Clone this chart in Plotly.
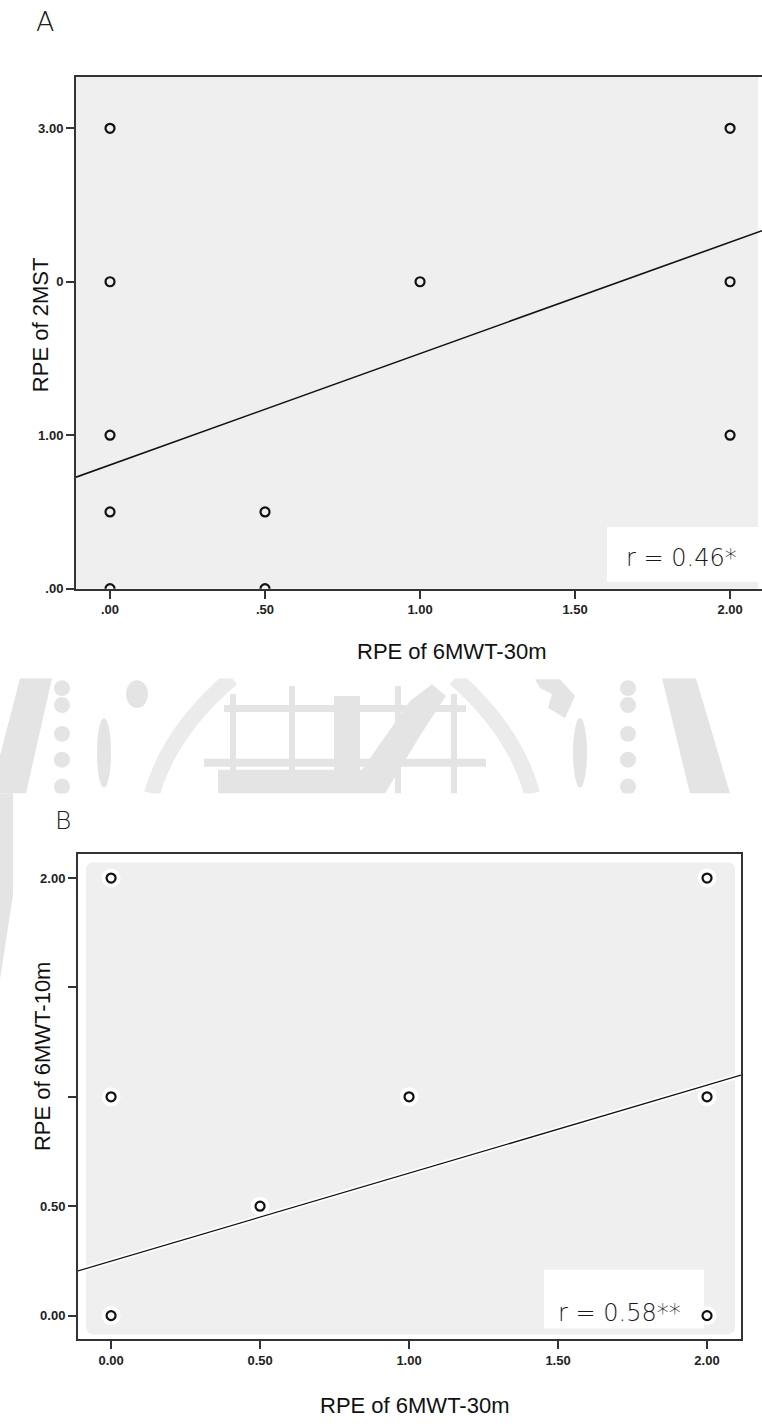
import plotly.graph_objects as go

W, H = 762, 1427

# ---------------- data ----------------
a_x = [0, 0, 0, 0, 0, 0.5, 0.5, 1, 2, 2, 2]
a_y = [3, 2, 1, 0.5, 0, 0.5, 0, 2, 3, 2, 1]
a_fit_intercept, a_fit_slope = 0.806, 0.726
a_xtick_vals = [0, 0.5, 1, 1.5, 2]
a_xtick_text = [".00", ".50", "1.00", "1.50", "2.00"]
a_ytick_vals = [0, 1, 2, 3]
a_ytick_text = [".00", "1.00", "0", "3.00"]
a_r_label = "r = 0.46*"

b_x = [0, 0, 0, 0.5, 1, 2, 2, 2]
b_y = [2, 1, 0, 0.5, 1, 2, 1, 0]
b_fit_intercept, b_fit_slope = 0.249, 0.402
b_xtick_vals = [0, 0.5, 1, 1.5, 2]
b_xtick_text = ["0.00", "0.50", "1.00", "1.50", "2.00"]
b_ytick_vals = [0, 0.5, 1, 1.5, 2]
b_ytick_text = ["0.00", "0.50", "", "", "2.00"]
b_r_label = "r = 0.58**"

x_title = "RPE of 6MWT-30m"
a_y_title = "RPE of 2MST"
b_y_title = "RPE of 6MWT-10m"

# ---------------- helpers ----------------
def px(x):
    return x / W

def py(y):
    return 1 - y / H

def poly(points):
    return "M " + " L ".join(f"{px(x):.5f},{py(y):.5f}" for x, y in points) + " Z"

A_XR = [-0.1097, 2.103]
A_YR = [0, 3.337]
B_XR = [-0.111, 2.114]
B_YR = [-0.109, 2.109]

fig = go.Figure()

# Panel A
fig.add_trace(go.Scatter(
    x=A_XR, y=[a_fit_intercept + a_fit_slope * v for v in A_XR],
    mode="lines", line=dict(color="#111", width=1.6),
    xaxis="x", yaxis="y", hoverinfo="skip"))
fig.add_trace(go.Scatter(
    x=a_x, y=a_y, mode="markers",
    marker=dict(symbol="circle-open", size=9, color="#111", line=dict(width=2.2, color="#111")),
    xaxis="x", yaxis="y"))

# Panel B
fig.add_trace(go.Scatter(
    x=B_XR, y=[b_fit_intercept + b_fit_slope * v for v in B_XR],
    mode="lines", line=dict(color="rgba(255,255,255,0.9)", width=5),
    xaxis="x2", yaxis="y2", hoverinfo="skip"))
fig.add_trace(go.Scatter(
    x=B_XR, y=[b_fit_intercept + b_fit_slope * v for v in B_XR],
    mode="lines", line=dict(color="#111", width=1.3),
    xaxis="x2", yaxis="y2", hoverinfo="skip"))
fig.add_trace(go.Scatter(
    x=b_x, y=b_y, mode="markers",
    marker=dict(symbol="circle", size=19, color="rgba(255,255,255,0.95)", line=dict(width=0)),
    xaxis="x2", yaxis="y2", hoverinfo="skip"))
fig.add_trace(go.Scatter(
    x=b_x, y=b_y, mode="markers",
    marker=dict(symbol="circle-open", size=9, color="#111", line=dict(width=2.2, color="#111")),
    xaxis="x2", yaxis="y2"))

tickfont = dict(family="Liberation Sans, Arial, sans-serif", size=13, color="#222", weight="bold")
axis_common = dict(showgrid=False, zeroline=False, showline=True, linecolor="#333",
                   linewidth=2, ticks="outside", ticklen=8, tickwidth=2, tickcolor="#333",
                   tickfont=tickfont, fixedrange=True)

shapes = []
WM = "#e4e4e4"
# ----- watermark (faded seal between the panels) -----
band = [
    poly([(20, 682), (52, 682), (26, 798), (0, 798), (0, 760)]),
    poly([(0, 798), (13, 798), (13, 900), (0, 985)]),
    poly([(662, 682), (696, 682), (730, 798), (690, 798)]),
    poly([(218, 774), (362, 774), (410, 705), (432, 688), (446, 700), (420, 740), (385, 798), (218, 798)]),
    poly([(334, 700), (360, 700), (360, 780), (334, 780)]),
    poly([(535, 683), (560, 683), (575, 700), (565, 722), (548, 712), (552, 698), (540, 692)]),
]
for p in band:
    shapes.append(dict(type="path", xref="paper", yref="paper", path=p,
                       fillcolor=WM, line=dict(width=0), layer="below"))
for (x0, y0, x1, y1) in [(224, 709, 466, 716), (204, 763, 486, 771),
                         (230, 698, 236, 798), (289, 690, 295, 798),
                         (395, 690, 401, 798), (451, 698, 457, 798)]:
    shapes.append(dict(type="rect", xref="paper", yref="paper",
                       x0=px(x0), x1=px(x1), y0=py(y1), y1=py(y0),
                       fillcolor=WM, line=dict(width=0), layer="below"))
for cx in (62, 628):
    for cy in (692, 709, 738, 764, 791):
        r = 8
        shapes.append(dict(type="circle", xref="paper", yref="paper",
                           x0=px(cx - r), x1=px(cx + r), y0=py(cy + r), y1=py(cy - r),
                           fillcolor=WM, line=dict(width=0), layer="below"))
for cx in (104, 580):
    shapes.append(dict(type="circle", xref="paper", yref="paper",
                       x0=px(cx - 7), x1=px(cx + 7), y0=py(792), y1=py(722),
                       fillcolor=WM, line=dict(width=0), layer="below"))
shapes.append(dict(type="circle", xref="paper", yref="paper",
                   x0=px(126), x1=px(148), y0=py(712), y1=py(684),
                   fillcolor=WM, line=dict(width=0), layer="below"))
shapes.append(dict(type="path", xref="paper", yref="paper",
                   path=f"M {px(232):.5f},{py(682):.5f} Q {px(170):.5f},{py(735):.5f} {px(152):.5f},{py(798):.5f}",
                   line=dict(color="#ebebeb", width=16), layer="below"))
shapes.append(dict(type="path", xref="paper", yref="paper",
                   path=f"M {px(455):.5f},{py(682):.5f} Q {px(515):.5f},{py(735):.5f} {px(532):.5f},{py(798):.5f}",
                   line=dict(color="#ebebeb", width=16), layer="below"))
shapes.append(dict(type="rect", xref="paper", yref="paper", x0=0, x1=1, y0=py(682), y1=1,
                   fillcolor="white", line=dict(width=0), layer="below"))
shapes.append(dict(type="rect", xref="paper", yref="paper", x0=px(13), x1=1, y0=0, y1=py(798),
                   fillcolor="white", line=dict(width=0), layer="below"))

# gray background for panel A
shapes.append(dict(type="rect", xref="paper", yref="paper", x0=px(76), x1=px(758), y0=py(592), y1=py(77),
                   fillcolor="#efefef", line=dict(width=0), layer="below"))

# panel B inner gray area (rounded)
x0, x1, y0, y1, rr = 86, 735, 867, 1342, 8
pathB = (f"M {px(x0+rr):.5f},{py(y0):.5f} L {px(x1-rr):.5f},{py(y0):.5f} "
         f"Q {px(x1):.5f},{py(y0):.5f} {px(x1):.5f},{py(y0+rr):.5f} "
         f"L {px(x1):.5f},{py(y1-rr):.5f} Q {px(x1):.5f},{py(y1):.5f} {px(x1-rr):.5f},{py(y1):.5f} "
         f"L {px(x0+rr):.5f},{py(y1):.5f} Q {px(x0):.5f},{py(y1):.5f} {px(x0):.5f},{py(y1-rr):.5f} "
         f"L {px(x0):.5f},{py(y0+rr):.5f} Q {px(x0):.5f},{py(y0):.5f} {px(x0+rr):.5f},{py(y0):.5f} Z")
shapes.append(dict(type="path", xref="paper", yref="paper", path=pathB,
                   fillcolor="#efefef", line=dict(width=0), layer="below"))

# r boxes
shapes.append(dict(type="rect", xref="paper", yref="paper",
                   x0=px(607), x1=px(759), y0=py(585), y1=py(530),
                   fillcolor="white", line=dict(width=0), layer="below"))
shapes.append(dict(type="rect", xref="paper", yref="paper",
                   x0=px(544), x1=px(704), y0=py(1336), y1=py(1277),
                   fillcolor="white", line=dict(width=0), layer="below"))

light = dict(family="DejaVu Sans, sans-serif", size=24, color="#1a1a1a", weight=200)
title_font = dict(family="Liberation Sans, Arial, sans-serif", size=22, color="#111")

def ann(text, x, y, font, angle=0):
    return dict(text=text, x=px(x), y=py(y), xref="paper", yref="paper", showarrow=False,
                xanchor="center", yanchor="middle", textangle=angle, font=font)

annotations = [
    ann("A", 45, 22, dict(family="DejaVu Sans, sans-serif", size=27, color="#222", weight=200)),
    ann("B", 63, 825, dict(family="DejaVu Sans, sans-serif", size=25, color="#222", weight=200)),
    ann(a_r_label, 681, 561, light),
    ann(b_r_label, 619, 1320, light),
    ann(x_title, 451, 655, title_font),
    ann(x_title, 414, 1413, title_font),
    ann(a_y_title, 40, 327, title_font, -90),
    ann(b_y_title, 42, 1063, title_font, -90),
]

fig.update_layout(
    width=W, height=H, autosize=False,
    margin=dict(l=0, r=0, t=0, b=0, pad=0),
    paper_bgcolor="white", plot_bgcolor="rgba(0,0,0,0)",
    showlegend=False,
    xaxis=dict(domain=[px(76), 1.0], range=A_XR, tickvals=a_xtick_vals, ticktext=a_xtick_text,
               anchor="y", mirror=True, **axis_common),
    yaxis=dict(domain=[py(592), py(77)], range=A_YR, tickvals=a_ytick_vals, ticktext=a_ytick_text,
               anchor="x", mirror=False, **axis_common),
    xaxis2=dict(domain=[px(78), px(741)], range=B_XR, tickvals=b_xtick_vals, ticktext=b_xtick_text,
                anchor="y2", mirror=True, **axis_common),
    yaxis2=dict(domain=[py(1347), py(859)], range=B_YR, tickvals=b_ytick_vals, ticktext=b_ytick_text,
                anchor="x2", mirror=True, **axis_common),
    shapes=shapes,
    annotations=annotations,
)

fig.write_html("out.html")
